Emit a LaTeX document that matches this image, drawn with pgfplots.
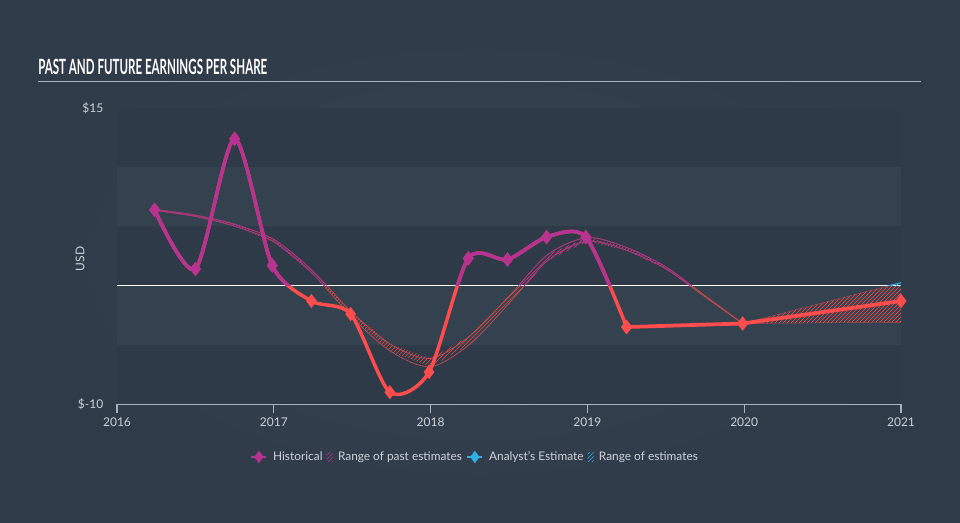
\documentclass[border=0pt]{standalone}
\usepackage{graphicx}
\usepackage{fontspec}
\setmainfont{Lato}
\usepackage{pgfplots}
\pgfplotsset{compat=1.18}
\usetikzlibrary{patterns}
\definecolor{bg}{HTML}{34404F}
\definecolor{bgin}{HTML}{37434F}
\definecolor{bgout}{HTML}{303B4A}
\definecolor{bandd}{HTML}{2E3A48}
\definecolor{bandl}{HTML}{34414E}
\definecolor{mag}{RGB}{183,50,145}
\definecolor{coral}{RGB}{255,76,76}
\definecolor{cyanb}{RGB}{45,175,225}
\definecolor{lgray}{HTML}{CDD2D8}
\definecolor{agray}{HTML}{A9B2BC}
\pgfplotsset{
  shortline/.style={legend image code/.code={\draw[mark repeat=2,mark phase=2,##1] plot coordinates {(0cm,0cm) (0.2cm,0cm) (0.4cm,0cm)};}},
  hatchleg/.style={legend image code/.code={\fill[##1] (0cm,-0.11cm) rectangle (0.16cm,0.11cm);}},
}
\pgfplotstableread{
x h
2016.24 6.4
2016.50 1.4
2016.75 12.4
2016.99 1.7
2017.24 -1.3
2017.49 -2.4
2017.74 -9.0
2017.99 -7.3
2018.24 2.3
2018.49 2.2
2018.74 4.1
2018.99 4.1
2019.25 -3.5
}\hist
\pgfplotstableread{
x h
2019.25 -3.5
2019.99 -3.2
2021.00 -1.3
}\fore
\pgfplotstableread{
x u l
2016.24 6.45 6.35
2016.50 5.95 5.85
2016.75 5.18 5.02
2017.00 3.90 3.70
2017.25 1.22 0.98
2017.50 -2.30 -2.70
2017.75 -5.00 -5.60
2018.00 -6.15 -6.85
2018.25 -4.25 -4.95
2018.50 -0.90 -1.50
2018.75 2.65 2.15
2019.00 4.05 3.75
2019.25 3.22 2.98
2019.50 1.58 1.42
2019.75 -0.85 -0.95
2019.99 -3.19 -3.21
}\past
\pgfplotstableread{
x y
2016.24 6.45
2016.50 5.95
2016.75 5.18
2017.00 3.90
2017.25 1.22
2017.50 -2.30
2017.75 -5.00
2018.00 -6.15
2018.25 -4.25
2018.50 -0.90
2018.75 2.65
2019.00 4.05
2019.25 3.22
2019.50 1.58
2019.75 -0.85
2019.99 -3.19
2019.99 -3.21
2019.75 -0.95
2019.50 1.42
2019.25 2.98
2019.00 3.75
2018.75 2.15
2018.50 -1.50
2018.25 -4.95
2018.00 -6.85
2017.75 -5.60
2017.50 -2.70
2017.25 0.98
2017.00 3.70
2016.75 5.02
2016.50 5.85
2016.24 6.35
2016.24 6.45
}\pastpoly
\pgfplotstableread{
x u l
2019.99 -3.2 -3.2
2021.00 0.25 -3.1
}\frange
\pgfplotstableread{
x y
2019.99 -3.2
2021.00 0.25
2021.00 -3.1
2019.99 -3.2
}\fpoly
\begin{document}
\begin{tikzpicture}
\shade[inner color=bgin, outer color=bgout] (0,0) rectangle (720pt,391.5pt);
\path[use as bounding box] (0,0) rectangle (720pt,391.5pt);
\node[anchor=south west, inner sep=0pt, text=white] at (28.5pt,335.25pt) {\resizebox{171.75pt}{11.5pt}{\bfseries PAST AND FUTURE EARNINGS PER SHARE}};
\draw[agray, line width=1.1pt] (28.5pt,330.4pt) -- (690.75pt,330.4pt);
\begin{axis}[
  at={(87.75pt,88.5pt)}, anchor=south west,
  width=588pt, height=222pt, scale only axis,
  xmin=2016, xmax=2021, ymin=-10, ymax=15,
  axis x line*=bottom, axis y line*=left,
  axis line style={-},
  x axis line style={agray, line width=0.8pt},
  y axis line style={draw=none},
  xtick={2016,2017,2018,2019,2020,2021},
  xticklabels={2016,2017,2018,2019,2020,2021},
  ytick={-10,15}, yticklabels={\$-10,\$15},
  tick align=outside,
  major tick length=6.75pt,
  x tick style={agray, line width=0.8pt},
  y tick style={draw=none},
  tick label style={font=\fontsize{9}{10}\selectfont, text=lgray},
  ylabel={USD},
  ylabel style={at={(axis description cs:-0.047,0.49)}, anchor=center, rotate=0, font=\fontsize{9}{10}\selectfont, text=lgray},
  legend columns=4,
  legend cell align=left,
  legend style={draw=none, fill=none, text=lgray, font=\fontsize{8.9}{10}\selectfont,
    at={(axis description cs:0.457,-0.179)}, anchor=center,
    /tikz/every even column/.append style={column sep=1pt},
    /tikz/every odd column/.append style={column sep=2pt}},
]
\addlegendimage{shortline, mag, line width=2pt, mark=diamond*, mark size=3pt}
\addlegendimage{hatchleg, pattern=north east lines, pattern color=mag, draw=none}
\addlegendimage{shortline, cyanb, line width=2pt, mark=diamond*, mark size=3pt}
\addlegendimage{hatchleg, pattern=north east lines, pattern color=cyanb, draw=none}
\legend{Historical, Range of past estimates\hspace{18pt}, Analyst's Estimate, Range of estimates}

\fill[bandd] (axis cs:2016,10) rectangle (axis cs:2021,15);
\fill[bandl] (axis cs:2016,5) rectangle (axis cs:2021,10);
\fill[bandd] (axis cs:2016,0) rectangle (axis cs:2021,5);
\fill[bandl] (axis cs:2016,-5) rectangle (axis cs:2021,0);
\fill[bandd] (axis cs:2016,-10) rectangle (axis cs:2021,-5);

\addplot[pattern=north east lines, pattern color=coral!85!bg, draw=none, forget plot] table[x=x,y=y] {\pastpoly};
\addplot[coral!75!bg, line width=0.5pt, smooth, forget plot] table[x=x,y=u] {\past};
\addplot[coral!75!bg, line width=0.5pt, smooth, forget plot] table[x=x,y=l] {\past};
\addplot[pattern=north east lines, pattern color=coral, draw=none, forget plot] table[x=x,y=y] {\fpoly};
\addplot[coral!60!bg, line width=0.3pt, forget plot] table[x=x,y=u] {\frange};
\addplot[coral!60!bg, line width=0.3pt, forget plot] table[x=x,y=l] {\frange};

\draw[white, line width=0.9pt] (axis cs:2016,0) -- (axis cs:2021,0);

\addplot[coral, line width=2.6pt, smooth, /tikz/tension=0.45, mark=diamond*, mark size=3.2pt, forget plot] table[x=x,y=h] {\hist};
\addplot[coral, line width=2.8pt, mark=diamond*, mark size=3.2pt, forget plot] table[x=x,y=h] {\fore};
\end{axis}
\begin{axis}[
  at={(87.75pt,177.3pt)}, anchor=south west,
  width=588pt, height=133.2pt, scale only axis,
  xmin=2016, xmax=2021, ymin=0, ymax=15,
  hide axis,
]
\addplot[pattern=north east lines, pattern color=mag, draw=none, forget plot] table[x=x,y=y] {\pastpoly};
\addplot[mag!85!bg, line width=0.5pt, smooth, forget plot] table[x=x,y=u] {\past};
\addplot[mag!85!bg, line width=0.5pt, smooth, forget plot] table[x=x,y=l] {\past};
\addplot[pattern=north east lines, pattern color=cyanb, draw=none, forget plot] table[x=x,y=y] {\fpoly};
\addplot[cyanb, line width=0.8pt, forget plot] table[x=x,y=u] {\frange};
\addplot[mag, line width=2.6pt, smooth, /tikz/tension=0.45, mark=diamond*, mark size=3.2pt, forget plot] table[x=x,y=h] {\hist};
\end{axis}
\end{tikzpicture}
\end{document}
